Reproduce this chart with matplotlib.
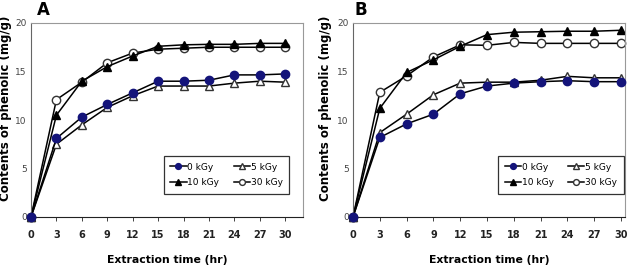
"""
Contenido fenolico vs tiempo de extraccion (paneles A y B)
"""
import numpy as np
import matplotlib.pyplot as plt

hours = [0, 3, 6, 9, 12, 15, 18, 21, 24, 27, 30]

# panel A
a_0kgy = [0, 8.1, 10.3, 11.6, 12.8, 14.0, 14.0, 14.1, 14.65, 14.65, 14.75]
a_5kgy = [0, 7.5, 9.5, 11.3, 12.5, 13.5, 13.5, 13.5, 13.8, 14.0, 13.9]
a_10kgy = [0, 10.5, 14.0, 15.5, 16.6, 17.6, 17.75, 17.8, 17.8, 17.9, 17.9]
a_30kgy = [0, 12.1, 13.9, 15.9, 16.9, 17.3, 17.4, 17.5, 17.5, 17.5, 17.5]

# panel B
b_0kgy = [0, 8.2, 9.6, 10.6, 12.7, 13.5, 13.8, 13.95, 14.05, 13.95, 13.95]
b_5kgy = [0, 8.7, 10.6, 12.6, 13.8, 13.9, 13.9, 14.1, 14.5, 14.35, 14.35]
b_10kgy = [0, 11.2, 14.9, 16.2, 17.6, 18.8, 19.05, 19.1, 19.15, 19.15, 19.25]
b_30kgy = [0, 12.85, 14.55, 16.5, 17.75, 17.7, 18.0, 17.9, 17.9, 17.9, 17.9]

labels = ["0 kGy", "5 kGy", "10 kGy", "30 kGy"]
yticks = [0, 5, 10, 15, 20]

NAVY = "#14147a"


def draw_panel(ax, series, xmax, leg_x):
    s0, s5, s10, s30 = series
    kw = dict(color="black", lw=1.1, ms=6, clip_on=False)
    l30, = ax.plot(hours, s30, "-o", mfc="white", mec="#333333", label=labels[3], **kw)
    l10, = ax.plot(hours, s10, "-^", mfc="black", mec="black", label=labels[2], **kw)
    l5, = ax.plot(hours, s5, "-^", mfc="white", mec="#333333", label=labels[1], **kw)
    l0, = ax.plot(hours, s0, "-o", mfc=NAVY, mec=NAVY, label=labels[0], zorder=5, **kw)

    ax.set_xlim(0, xmax)
    ax.set_ylim(0, 20)
    ax.set_xticks(hours)
    ax.set_yticks(yticks)
    ax.tick_params(axis="x", length=3, width=0.6, pad=6, labelsize=7, colors="#222222")
    ax.tick_params(axis="y", length=0, pad=3, labelsize=6.5, labelcolor="#444444")
    for t in ax.get_xticklabels():
        t.set_fontweight("bold")
    ax.spines["left"].set_color("#666666")
    ax.spines["bottom"].set_color("#222222")
    ax.spines["top"].set_color("#999999")
    ax.spines["right"].set_color("#999999")
    for sp in ax.spines.values():
        sp.set_linewidth(0.8)

    ax.set_xlabel("Extraction time (hr)", fontsize=7.8, fontweight="bold", labelpad=11)

    leg = ax.legend([l0, l10, l5, l30], [labels[0], labels[2], labels[1], labels[3]],
                    ncol=2, loc="lower right", bbox_to_anchor=(leg_x, 0.12),
                    fontsize=6.5, frameon=True, fancybox=False, handlelength=1.8,
                    handletextpad=0.1, columnspacing=1.6, borderpad=0.7,
                    labelspacing=0.75, markerscale=0.7, borderaxespad=0)
    leg.get_frame().set_edgecolor("black")
    leg.get_frame().set_linewidth(0.9)


fig = plt.figure(figsize=(6.4, 2.72), dpi=100)
ax_a = fig.add_axes([31 / 640, 1 - 217 / 272, 272 / 640, 194 / 272])
ax_b = fig.add_axes([353 / 640, 1 - 217 / 272, 272 / 640, 194 / 272])

draw_panel(ax_a, (a_0kgy, a_5kgy, a_10kgy, a_30kgy), 32.1, 0.95)
draw_panel(ax_b, (b_0kgy, b_5kgy, b_10kgy, b_30kgy), 30.45, 0.995)

fig.text(37 / 640, 1 - 10 / 272, "A", fontsize=12, fontweight="bold", ha="left", va="center")
fig.text(355 / 640, 1 - 10 / 272, "B", fontsize=12, fontweight="bold", ha="left", va="center")

for x in (6, 325):
    fig.text(x / 640, 1 - 108 / 272, "Contents of phenolic (mg/g)", rotation=90,
             fontsize=8.5, fontweight="bold", ha="center", va="center")

fig.savefig("out.png", dpi=100)
